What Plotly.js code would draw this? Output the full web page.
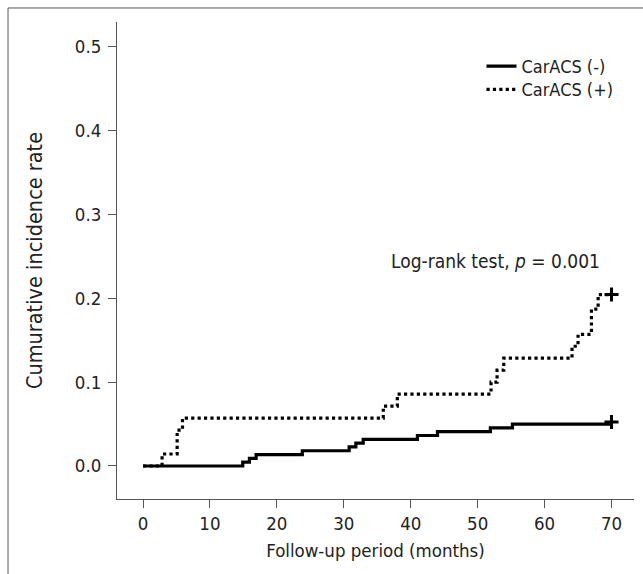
<!DOCTYPE html>
<html>
<head>
<meta charset="utf-8">
<script src="https://cdn.plot.ly/plotly-3.0.1.min.js"></script>
<style>html,body{margin:0;padding:0;background:#fff;}#chart{width:643px;height:574px;}</style>
</head>
<body>
<div id="chart"></div>
<script>
// CarACS (-) cumulative incidence (step function)
const negMonths = [0, 14.9, 15.9, 16.9, 23.8, 30.8, 31.8, 32.9, 41.0, 44.0, 51.9, 55.2, 70];
const negRate   = [0, 0.0045, 0.009, 0.0136, 0.0182, 0.0227, 0.0273, 0.0318, 0.0364, 0.0409, 0.0455, 0.05, 0.05];
// CarACS (+) cumulative incidence (step function)
const posMonths = [0, 2.85, 5.1, 5.9, 35.9, 38.0, 52.0, 52.9, 53.9, 64.1, 65.0, 67.0, 68.0, 70];
const posRate   = [0, 0.0143, 0.0429, 0.0571, 0.0714, 0.0857, 0.1, 0.1143, 0.1286, 0.1429, 0.1571, 0.1871, 0.2045, 0.2045];
// censored marks
const censorNegX = [70], censorNegY = [0.0525];
const censorPosX = [70], censorPosY = [0.2045];
const seriesNames = ['CarACS (-)', 'CarACS (+)'];
const xTicks = [0, 10, 20, 30, 40, 50, 60, 70];
const yTicks = [0, 0.1, 0.2, 0.3, 0.4, 0.5];

const FONT = '"Liberation Sans Narrow", "DejaVu Sans Condensed", Roboto, "Noto Sans", sans-serif';
const TXT = '#222';

const traces = [
  {x: negMonths, y: negRate, type: 'scatter', mode: 'lines', name: seriesNames[0], legend: 'legend',
   line: {shape: 'hv', color: '#000', width: 3.2}},
  {x: posMonths, y: posRate, type: 'scatter', mode: 'lines', name: seriesNames[1], legend: 'legend2',
   line: {shape: 'hv', color: '#000', width: 3.2, dash: 'dot'}},
  {x: censorNegX, y: censorNegY, type: 'scatter', mode: 'markers', showlegend: false,
   marker: {symbol: 'cross-thin', size: 10, line: {width: 3, color: '#000'}}},
  {x: censorPosX, y: censorPosY, type: 'scatter', mode: 'markers', showlegend: false,
   marker: {symbol: 'cross-thin', size: 10, line: {width: 3, color: '#000'}}}
];

const legendBase = {xanchor: 'left', yanchor: 'top', bgcolor: 'rgba(0,0,0,0)',
  font: {family: FONT, size: 18, color: TXT}, itemwidth: 30};

const layout = {
  width: 643, height: 574,
  margin: {l: 117, r: 9, t: 22, b: 75, pad: 0},
  paper_bgcolor: '#fff', plot_bgcolor: '#fff',
  font: {family: FONT, size: 18, color: TXT},
  showlegend: true,
  legend: Object.assign({x: 0.705, y: 0.9457}, legendBase),
  legend2: Object.assign({x: 0.705, y: 0.8969}, legendBase),
  xaxis: {
    range: [-3.885, 73.36], tickvals: xTicks, ticktext: xTicks.map(String),
    showgrid: false, zeroline: false, showline: true, linecolor: '#555', linewidth: 1,
    ticks: 'outside', ticklen: 8, tickcolor: '#555', tickfont: {size: 18.5, color: TXT},
    title: {text: 'Follow-up period (months)', font: {size: 18.5, color: TXT}, standoff: 10}
  },
  yaxis: {
    range: [-0.0394, 0.5298], tickvals: yTicks, ticktext: yTicks.map(v => v.toFixed(1)),
    showgrid: false, zeroline: false, showline: true, linecolor: '#555', linewidth: 1,
    ticks: 'outside', ticklen: 8, tickcolor: '#555', tickfont: {size: 18.5, color: TXT},
    ticklabelstandoff: 3,
    title: {text: 'Cumurative incidence rate', font: {size: 21.5, color: TXT}, standoff: 26}
  },
  annotations: [{
    xref: 'paper', yref: 'paper', x: 0.732, y: 0.4996, xanchor: 'center', yanchor: 'middle',
    text: 'Log-rank test, <i>p</i> = 0.001', showarrow: false, font: {size: 19, color: TXT}
  }],
  shapes: [
    {type: 'line', xref: 'paper', yref: 'paper', x0: -0.2108, x1: 1.02, y0: 1.0294, y1: 1.0294, line: {color: '#555', width: 1}},
    {type: 'line', xref: 'paper', yref: 'paper', x0: -0.2108, x1: -0.2108, y0: 1.0294, y1: -0.16, line: {color: '#555', width: 1}}
  ]
};

Plotly.newPlot('chart', traces, layout, {displayModeBar: false, staticPlot: true});
</script>
</body>
</html>
